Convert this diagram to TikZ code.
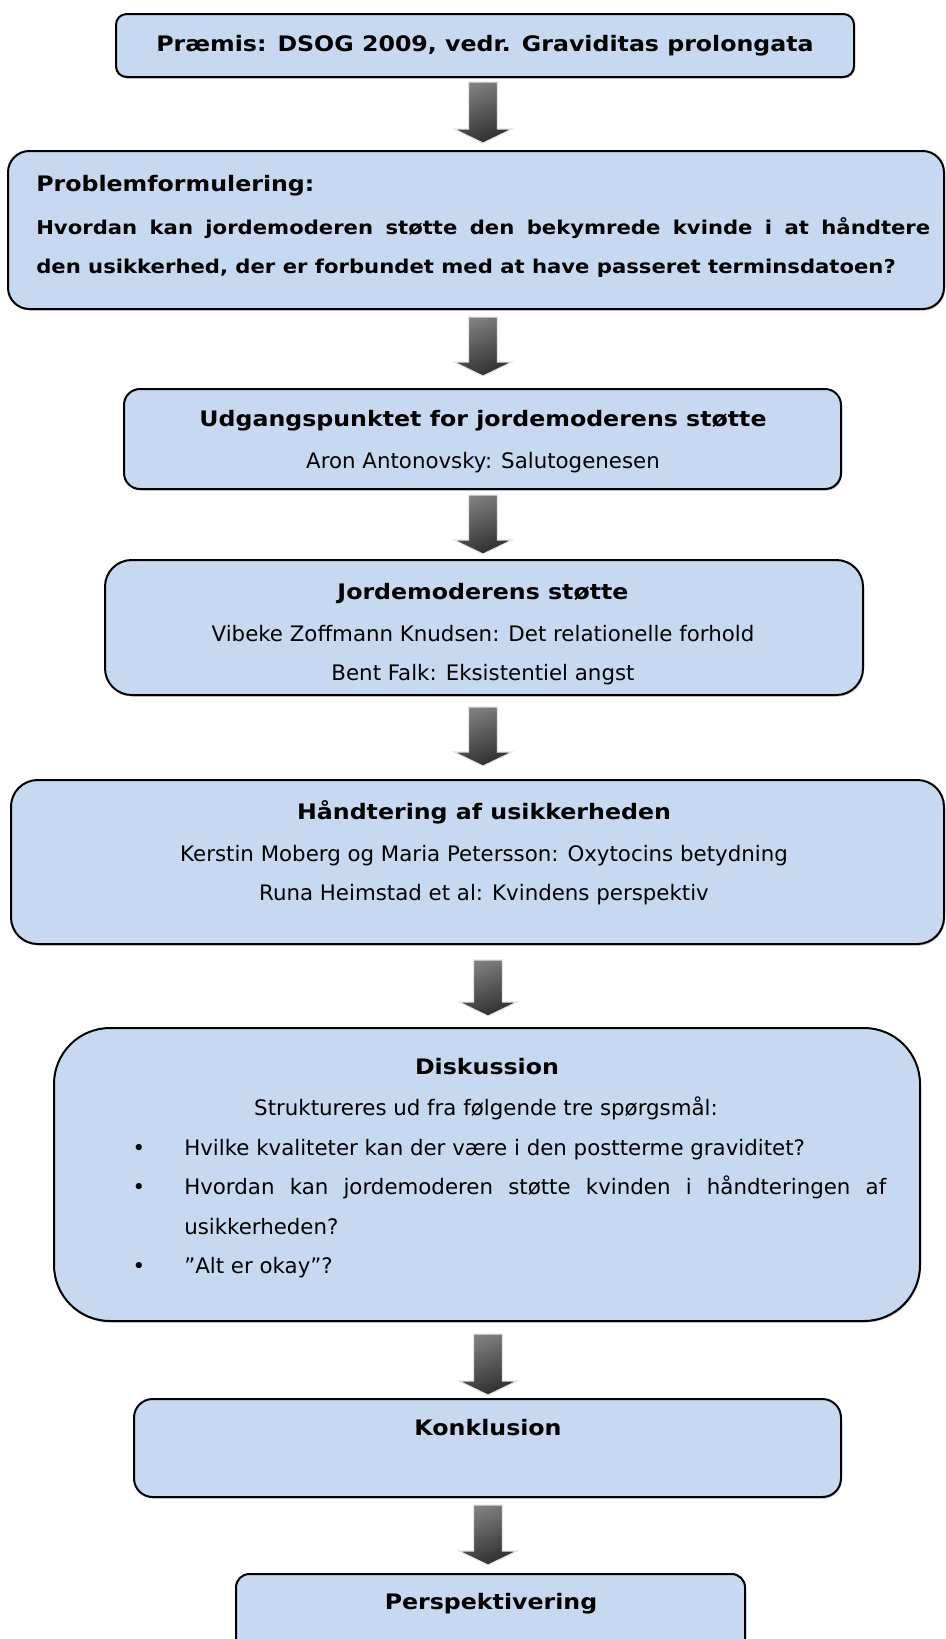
\documentclass[tikz,border=0pt]{standalone}
\usepackage{fontspec}
\setmainfont{DejaVu Sans}[BoldFeatures={FakeStretch=1.11}]
\usetikzlibrary{fit,shadows}
\definecolor{boxfill}{RGB}{198,217,241}
\tikzset{
  boxshape/.style={draw=black, line width=1.5pt, fill=boxfill, inner sep=0pt,
     drop shadow={shadow xshift=0.8pt, shadow yshift=-1.2pt, opacity=0.45}},
  ttl/.style={anchor=mid, inner sep=0pt, font=\fontsize{16}{19}\selectfont\bfseries},
  bdy/.style={anchor=mid, inner sep=0pt, font=\fontsize{16}{19}\selectfont},
  pbtxt/.style={anchor=mid west, inner sep=0pt, font=\fontsize{14.3}{18}\selectfont\bfseries},
  arrowbody/.style={draw=black!10, line width=0.8pt, top color=black!50, bottom color=black!82, shading angle=20},
}
\newcommand\blkarrow[4]{% name, x, top, tip
  \coordinate (#1) at (#2,#3);
  \path[arrowbody] (#2-14.5,#3) -- (#2+14.5,#3) -- (#2+14.5,#4-14) -- (#2+29,#4-14)
     -- (#2,#4) -- (#2-29,#4-14) -- (#2-14.5,#4-14) -- cycle;
}
\begin{document}
\begin{tikzpicture}[x=0.75pt, y=-0.75pt]
\useasboundingbox (0,0) rectangle (946,1639);
\clip (0,0) rectangle (946,1639);

% boxes
\node[boxshape, rounded corners=8pt, fit={(116,14) (854,77)}] (b1) {};
\node[boxshape, rounded corners=16pt, fit={(8,151) (944,309)}] (b2) {};
\node[boxshape, rounded corners=12pt, fit={(124,389) (841,489)}] (b3) {};
\node[boxshape, rounded corners=20pt, fit={(105,560) (863,695)}] (b4) {};
\node[boxshape, rounded corners=20pt, fit={(11,780) (944,944)}] (b5) {};
\node[boxshape, rounded corners=42pt, fit={(54,1028) (920,1321)}] (b6) {};
\node[boxshape, rounded corners=14pt, fit={(134,1399) (841,1497)}] (b7) {};
\node[boxshape, rounded corners=10pt, fit={(236,1574) (745,1680)}] (b8) {};

% arrows
\blkarrow{a1}{483}{82}{143}
\blkarrow{a2}{483}{317}{376}
\blkarrow{a3}{483}{495}{554}
\blkarrow{a4}{483}{707}{766}
\blkarrow{a5}{488}{960}{1016}
\blkarrow{a6}{488}{1334}{1395}
\blkarrow{a7}{488}{1505}{1565}

% texts
\node[ttl] (t1) at (485,48) {Præmis: DSOG 2009, vedr. Graviditas prolongata};

\node[ttl, anchor=mid west] (t2a) at (36,188) {Problemformulering:};
\node[pbtxt] (t2b) at (36,231) {\makebox[670.5pt][s]{Hvordan kan jordemoderen støtte den bekymrede kvinde i at håndtere}};
\node[pbtxt] (t2c) at (36,270) {den usikkerhed, der er forbundet med at have passeret terminsdatoen?};

\node[ttl] (t3a) at (483,423) {Udgangspunktet for jordemoderens støtte};
\node[bdy] (t3b) at (483,465) {Aron Antonovsky: Salutogenesen};

\node[ttl] (t4a) at (483,596) {Jordemoderens støtte};
\node[bdy] (t4b) at (483,638) {Vibeke Zoffmann Knudsen: Det relationelle forhold};
\begin{scope}
\clip (0,0) rectangle (946,685);
\node[bdy] (t4c) at (483,677) {Bent Falk: Eksistentiel angst};
\end{scope}

\node[ttl] (t5a) at (484,816) {Håndtering af usikkerheden};
\node[bdy] (t5b) at (484,858) {Kerstin Moberg og Maria Petersson: Oxytocins betydning};
\node[bdy] (t5c) at (484,897) {Runa Heimstad et al: Kvindens perspektiv};

\node[ttl] (t6a) at (487,1071) {Diskussion};
\node[bdy] (t6b) at (486,1112) {Struktureres ud fra følgende tre spørgsmål:};
\node[bdy] (p1) at (139,1152) {•};
\node[bdy, anchor=mid west] (q1) at (184,1152) {Hvilke kvaliteter kan der være i den postterme graviditet?};
\node[bdy] (p2) at (139,1191) {•};
\node[bdy, anchor=mid west] (q2) at (184,1191) {\makebox[526.5pt][s]{Hvordan kan jordemoderen støtte kvinden i håndteringen af}};
\node[bdy, anchor=mid west] (q2b) at (184,1231) {usikkerheden?};
\node[bdy] (p3) at (139,1270) {•};
\node[bdy, anchor=mid west] (q3) at (184,1270) {”Alt er okay”?};

\node[ttl] (t7) at (488,1432) {Konklusion};
\node[ttl] (t8) at (491,1606) {Perspektivering};
\end{tikzpicture}
\end{document}
